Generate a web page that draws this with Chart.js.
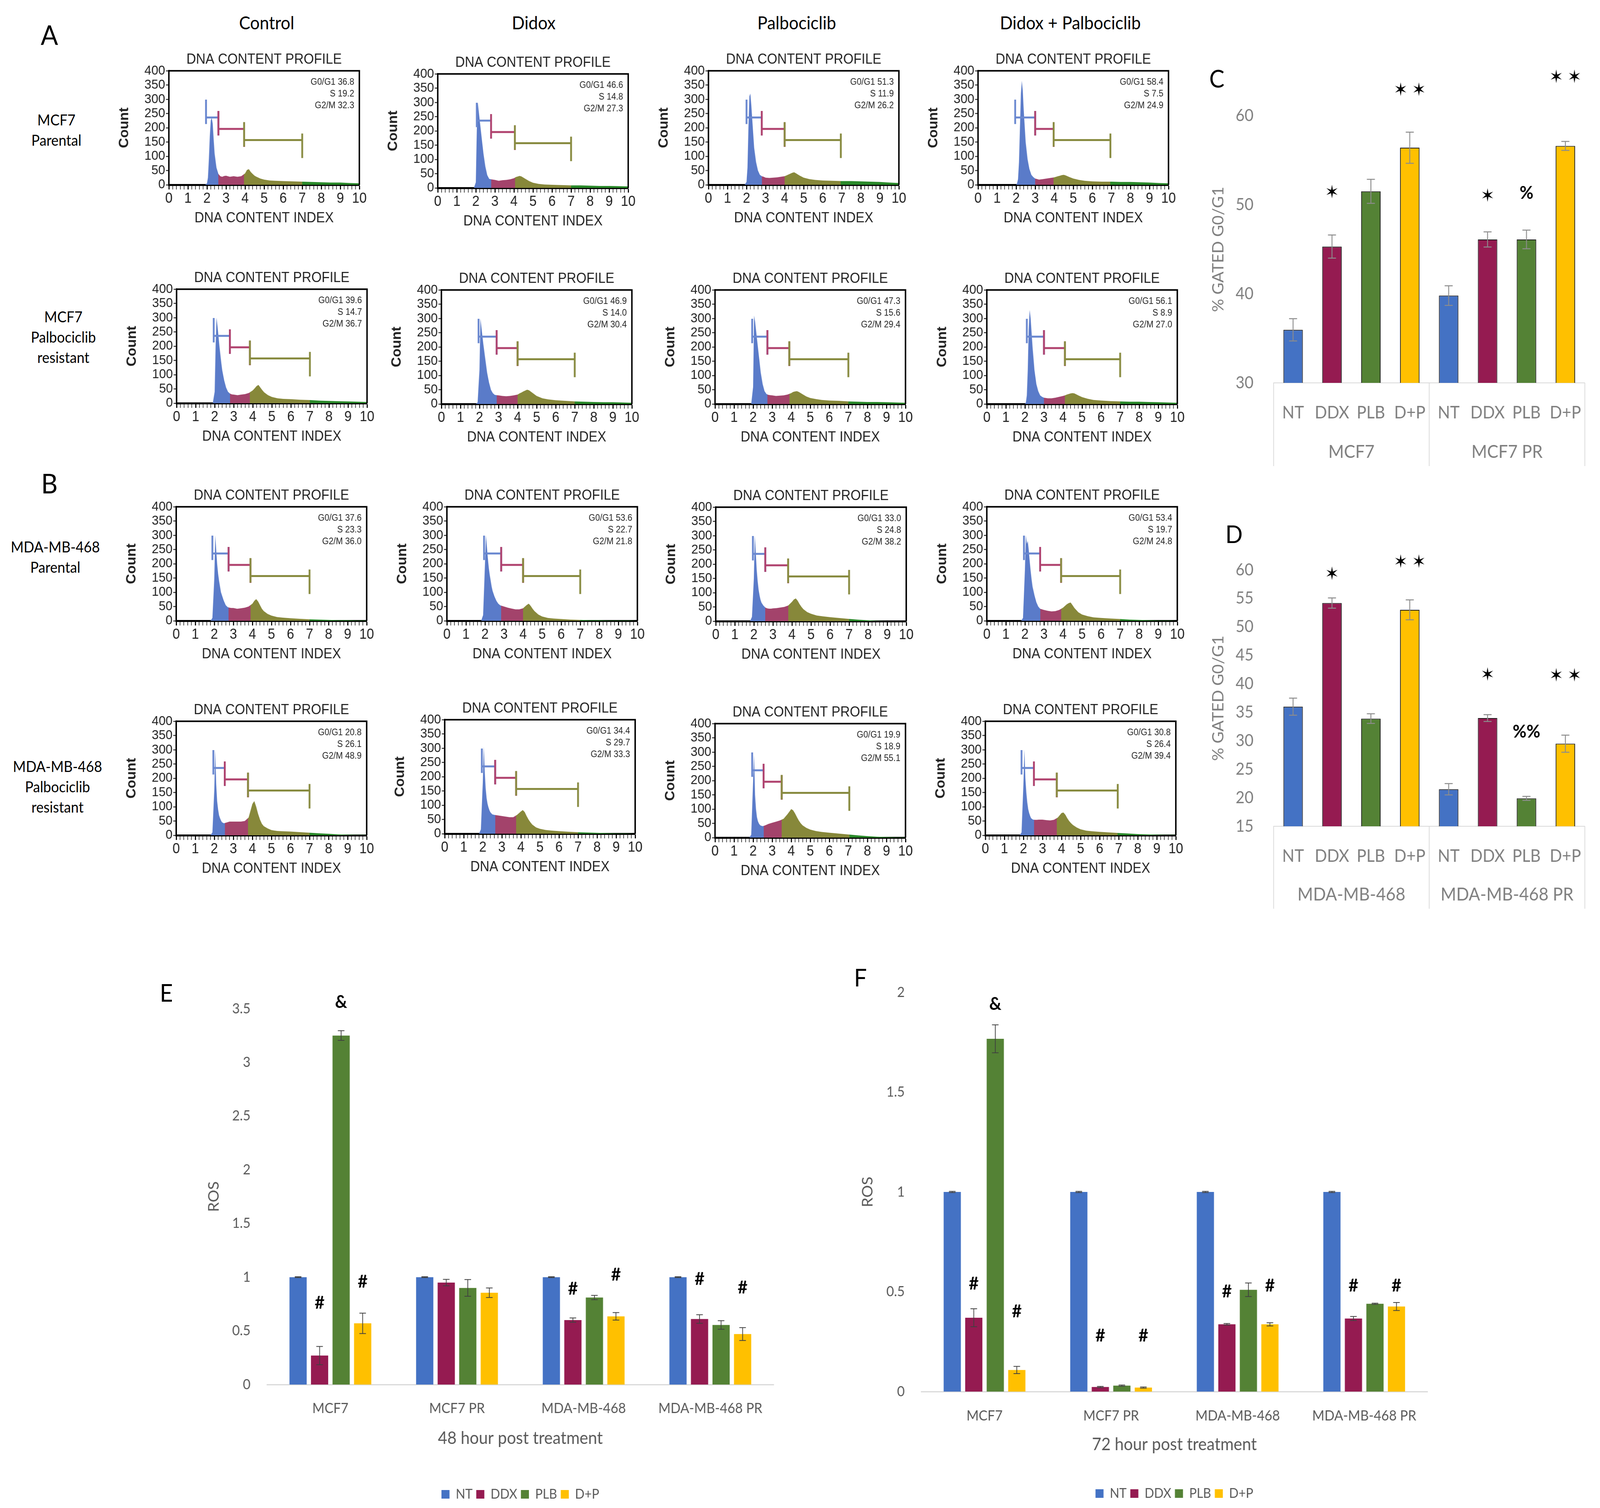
<!DOCTYPE html>
<html>
<head>
<meta charset="utf-8">
<title>Cell cycle profiles and ROS</title>
<script src="https://cdn.jsdelivr.net/npm/chart.js@4.4.1/dist/chart.umd.min.js"></script>
<style>
  html, body { margin: 0; padding: 0; background: #fff; overflow: hidden; }
  #wrap { position: relative; width: 4368px; height: 3860px; overflow: hidden; }
  #page { position: absolute; left: 0; top: 0; width: 4368px; height: 3860px; overflow: hidden; background: #fff;
          font-family: Lato, "Liberation Sans", sans-serif; color: #000; transform-origin: 0 0; }
  #page canvas { position: absolute; }
  .txt { position: absolute; transform: translate(-50%, -50%); white-space: pre; text-align: center; }
</style>
</head>
<body>
<div id="wrap"><div id="page"></div></div>
<script>
// ---------- data ----------
const treatments = ['Control', 'Didox', 'Palbociclib', 'Didox + Palbociclib'];
const cellLines = ['MCF7\nParental', 'MCF7\nPalbociclib\nresistant', 'MDA-MB-468\nParental', 'MDA-MB-468\nPalbociclib\nresistant'];

// DNA content index (x) where the histogram counts were read
const dnaIndex = [1.8, 1.9, 2.0, 2.05, 2.1, 2.15, 2.2, 2.25, 2.3, 2.35, 2.4, 2.5, 2.6, 2.7, 2.8, 2.9, 3.0, 3.2, 3.4, 3.6, 3.8,
                  4.0, 4.1, 4.2, 4.3, 4.4, 4.5, 4.6, 4.8, 5.0, 5.3, 5.6, 6.0, 6.5, 7.0, 7.5, 8.0, 8.5, 9.0, 9.5, 10.0];

// counts, MCF7 parental
const mcf7Control = [0,0,5,25,90,170,225,235,215,160,110,60,38,30,28,31,32,28,30,28,30,40,52,55,45,38,32,28,22,18,15,14,13,12,11,10,9,8,8,6,5];
const mcf7Didox   = [0,0,20,200,300,270,240,210,180,150,120,75,45,32,30,29,28,25,27,28,30,34,38,40,42,40,36,32,24,18,14,12,11,10,9,9,8,7,7,6,5];
const mcf7Palbo   = [0,0,10,60,200,310,320,280,230,180,130,80,50,35,30,28,25,24,25,26,28,30,33,36,39,42,44,40,32,25,20,17,15,14,13,13,12,11,10,8,6];
const mcf7Combo   = [0,0,0,5,20,80,200,320,365,330,260,150,90,55,35,27,22,18,20,22,24,26,28,30,32,34,35,33,27,22,17,14,12,11,11,10,10,9,8,6,5];
// counts, MCF7 palbociclib resistant
const mcf7prControl = [0,0,40,200,300,270,235,200,170,140,115,80,55,40,34,31,30,28,30,32,36,45,52,60,64,55,46,38,28,22,17,15,14,12,11,9,8,7,6,5,4];
const mcf7prDidox   = [0,5,120,300,270,240,210,185,160,135,110,75,50,38,32,31,30,28,27,28,30,33,37,40,44,47,50,48,38,28,20,16,13,11,9,8,7,6,6,5,4];
const mcf7prPalbo   = [0,0,60,310,290,260,230,200,170,140,110,70,45,35,32,31,30,28,29,30,33,38,42,44,45,42,38,34,26,21,17,14,12,11,9,8,7,7,6,5,4];
const mcf7prCombo   = [0,0,0,5,30,120,260,330,300,250,200,120,70,45,30,25,22,20,20,22,25,28,30,33,35,37,38,37,30,24,18,14,12,10,9,8,8,7,6,5,4];
// counts, MDA-MB-468 parental
const mdaControl = [0,10,150,300,250,200,165,140,120,100,90,70,55,48,46,45,45,42,44,46,50,60,70,76,68,55,42,34,24,18,13,11,9,7,5,4,3,2,2,1,1];
const mdaDidox   = [0,20,200,300,260,220,185,160,140,120,105,85,70,60,54,52,50,46,43,40,40,44,50,56,60,52,42,34,22,15,10,8,6,4,3,2,2,1,1,1,0];
const mdaPalbo   = [0,15,150,300,240,180,140,110,90,75,65,55,48,45,44,44,45,46,48,50,55,68,76,80,72,60,50,42,32,26,20,17,14,11,8,5,3,1,0,0,0];
const mdaCombo   = [0,10,180,300,270,280,250,210,175,145,120,90,65,50,42,40,38,35,33,34,38,46,52,58,62,64,55,45,30,22,16,12,10,8,6,4,3,2,1,1,0];
// counts, MDA-MB-468 palbociclib resistant
const mdaprControl = [0,10,160,300,180,120,90,70,60,52,46,42,44,46,48,48,48,48,48,50,62,110,120,100,75,55,40,32,24,18,15,14,13,11,9,7,5,3,2,1,1];
const mdaprDidox   = [0,15,180,305,220,160,125,105,92,82,75,68,66,65,64,63,62,60,58,58,66,78,83,76,62,50,40,32,22,17,13,11,9,7,5,4,3,2,1,1,0];
const mdaprPalbo   = [0,10,200,290,150,100,72,58,50,45,42,40,42,45,48,50,52,56,60,66,82,100,96,85,72,60,50,43,34,28,23,20,17,14,11,8,5,3,2,1,1];
const mdaprCombo   = [0,10,180,300,200,150,115,92,78,68,60,55,54,54,55,55,55,53,52,54,62,78,80,72,60,50,42,36,27,21,16,14,12,10,8,6,4,3,2,1,1];

// gates: [G0/G1 start, S start, G2/M start, G2/M end]
const mcf7Gates   = [[1.95,2.6,3.95,7.0],[2.05,2.8,4.05,7.0],[2.0,2.8,4.0,6.95],[1.95,3.0,3.97,6.95]];
const mcf7prGates = [[1.95,2.8,3.85,7.0],[1.95,2.9,4.0,7.0],[1.95,2.75,3.9,7.0],[2.1,3.0,4.1,7.0]];
const mdaGates    = [[1.9,2.75,3.9,7.0],[1.95,2.85,4.0,7.0],[1.95,2.6,3.8,7.0],[1.95,2.8,3.9,7.0]];
const mdaprGates  = [[1.95,2.55,3.77,7.0],[1.95,2.65,3.75,7.0],[1.95,2.55,3.5,7.05],[1.9,2.55,3.75,6.95]];
const gateLevels = [236, 196, 157];

// gated percentages [G0/G1, S, G2/M]
const mcf7Stats   = [[36.8,19.2,32.3],[46.6,14.8,27.3],[51.3,11.9,26.2],[58.4,7.5,24.9]];
const mcf7prStats = [[39.6,14.7,36.7],[46.9,14.0,30.4],[47.3,15.6,29.4],[56.1,8.9,27.0]];
const mdaStats    = [[37.6,23.3,36.0],[53.6,22.7,21.8],[33.0,24.8,38.2],[53.4,19.7,24.8]];
const mdaprStats  = [[20.8,26.1,48.9],[34.4,29.7,33.3],[19.9,18.9,55.1],[30.8,26.4,39.4]];

// panel C / D: % gated G0/G1
const treatmentTicks = ['NT', 'DDX', 'PLB', 'D+P'];
const gatedGroupsC = ['MCF7', 'MCF7 PR'];
const gatedC       = [35.95, 45.3, 51.5, 56.4, 39.8, 46.1, 46.1, 56.6];
const gatedCErr    = [1.25, 1.3, 1.35, 1.75, 1.1, 0.85, 1.05, 0.5];
const gatedCMarks  = ['', '✶', '', '✶ ✶', '', '✶', '%', '✶ ✶'];
const gatedCMarkAt = [null, 51.4, null, 62.9, null, 51.0, 51.3, 64.35];
const gatedGroupsD = ['MDA-MB-468', 'MDA-MB-468 PR'];
const gatedD       = [36.0, 54.2, 33.9, 53.0, 21.5, 34.0, 19.9, 29.5];
const gatedDErr    = [1.5, 0.9, 0.85, 1.75, 1.0, 0.6, 0.35, 1.5];
const gatedDMarks  = ['', '✶', '', '✶ ✶', '', '✶', '%%', '✶ ✶'];
const gatedDMarkAt = [null, 59.3, null, 61.45, null, 41.6, 31.6, 41.5];

// panel E / F: ROS
const rosGroups = ['MCF7', 'MCF7 PR', 'MDA-MB-468', 'MDA-MB-468 PR'];
const rosSeries = ['NT', 'DDX', 'PLB', 'D+P'];
const ros48NT  = [1.0, 1.0, 1.0, 1.0];
const ros48DDX = [0.27, 0.95, 0.6, 0.61];
const ros48PLB = [3.25, 0.9, 0.81, 0.555];
const ros48DP  = [0.57, 0.855, 0.635, 0.47];
const ros48NTErr  = [0.004, 0.004, 0.004, 0.004];
const ros48DDXErr = [0.085, 0.03, 0.02, 0.04];
const ros48PLBErr = [0.045, 0.078, 0.02, 0.04];
const ros48DPErr  = [0.095, 0.045, 0.035, 0.06];
const ros48DDXMarks = ['#', '', '#', '#'];  const ros48DDXMarkAt = [0.76, null, 0.89, 0.98];
const ros48PLBMarks = ['&', '', '', ''];    const ros48PLBMarkAt = [3.56, null, null, null];
const ros48DPMarks  = ['#', '', '#', '#'];  const ros48DPMarkAt  = [0.955, null, 1.02, 0.90];
const ros72NT  = [1.0, 1.0, 1.0, 1.0];
const ros72DDX = [0.37, 0.023, 0.337, 0.366];
const ros72PLB = [1.767, 0.03, 0.51, 0.44];
const ros72DP  = [0.108, 0.02, 0.337, 0.426];
const ros72NTErr  = [0.003, 0.003, 0.003, 0.003];
const ros72DDXErr = [0.045, 0.003, 0.004, 0.01];
const ros72PLBErr = [0.07, 0.003, 0.034, 0.003];
const ros72DPErr  = [0.018, 0.003, 0.008, 0.02];
const ros72DDXMarks = ['#', '#', '#', '#'];  const ros72DDXMarkAt = [0.54, 0.28, 0.50, 0.53];
const ros72PLBMarks = ['&', '', '', ''];     const ros72PLBMarkAt = [1.94, null, null, null];
const ros72DPMarks  = ['#', '#', '#', '#'];  const ros72DPMarkAt  = [0.40, 0.28, 0.53, 0.53];

// ---------- styles ----------
const phaseColors = ['#5a7bc9', '#a3436b', '#87883a', '#2a8a2a'];
const gateColors = ['#6a88d0', '#b0426e', '#888b40'];
const treatmentColors = ['#4472c4', '#951b51', '#548235', '#ffc000'];
const narrow = 'Liberation Sans';

Chart.defaults.font.family = 'Lato';

const wrap = document.getElementById('wrap');
const page = document.getElementById('page');

// fit the 4368x3860 layout into whatever viewport we actually get
const sx = window.innerWidth / 4368, sy = window.innerHeight / 3860;
if (sx > 0.3 && sy > 0.3 && (Math.abs(sx - 1) > 0.004 || Math.abs(sy - 1) > 0.004)) {
  wrap.style.width = (4368 * sx) + 'px';
  wrap.style.height = (3860 * sy) + 'px';
  page.style.transform = 'scale(' + sx + ',' + sy + ')';
}

function makeCanvas(left, top, w, h) {
  const c = document.createElement('canvas');
  c.width = w; c.height = h;
  c.style.left = left + 'px'; c.style.top = top + 'px';
  c.style.width = w + 'px'; c.style.height = h + 'px';
  page.appendChild(c);
  return c;
}

function addText(text, x, y, css) {
  const d = document.createElement('div');
  d.className = 'txt';
  d.textContent = text;
  d.style.left = x + 'px'; d.style.top = y + 'px';
  Object.assign(d.style, css);
  page.appendChild(d);
}

// ---------- plugins ----------
const frameBox = {
  id: 'frameBox',
  afterDraw(chart) {
    const {ctx, chartArea: a} = chart;
    ctx.save();
    ctx.strokeStyle = '#000'; ctx.lineWidth = 4;
    ctx.beginPath();
    ctx.moveTo(a.left, a.top); ctx.lineTo(a.right, a.top); ctx.lineTo(a.right, a.bottom);
    ctx.stroke();
    ctx.restore();
  }
};

const statsBox = {
  id: 'statsBox',
  afterDraw(chart, args, opts) {
    const {ctx, chartArea: a} = chart;
    ctx.save();
    ctx.fillStyle = '#222'; ctx.font = '23px "' + narrow + '"';
    ctx.textAlign = 'right'; ctx.textBaseline = 'middle';
    opts.lines.forEach((t, i) => ctx.fillText(t, a.right - 14, a.top + 29 + i * 30));
    ctx.restore();
  }
};

const errorBars = {
  id: 'errorBars',
  afterDatasetsDraw(chart, args, opts) {
    const {ctx} = chart; const y = chart.scales.y;
    ctx.save();
    ctx.strokeStyle = opts.color; ctx.lineWidth = opts.width;
    chart.data.datasets.forEach((ds, di) => {
      if (!ds.errors) return;
      chart.getDatasetMeta(di).data.forEach((bar, i) => {
        const v = ds.data[i], e = ds.errors[i];
        const top = y.getPixelForValue(v + e), bot = y.getPixelForValue(v - e);
        ctx.beginPath();
        ctx.moveTo(bar.x, top); ctx.lineTo(bar.x, bot);
        ctx.moveTo(bar.x - opts.cap, top); ctx.lineTo(bar.x + opts.cap, top);
        ctx.moveTo(bar.x - opts.cap, bot); ctx.lineTo(bar.x + opts.cap, bot);
        ctx.stroke();
      });
    });
    ctx.restore();
  }
};

const barMarks = {
  id: 'barMarks',
  afterDatasetsDraw(chart, args, opts) {
    const {ctx} = chart; const y = chart.scales.y;
    ctx.save();
    ctx.font = opts.font; ctx.fillStyle = '#000';
    ctx.textAlign = 'center'; ctx.textBaseline = 'middle';
    chart.data.datasets.forEach((ds, di) => {
      if (!ds.marks) return;
      chart.getDatasetMeta(di).data.forEach((bar, i) => {
        if (ds.marks[i]) ctx.fillText(ds.marks[i], bar.x, y.getPixelForValue(ds.markAt[i]));
      });
    });
    ctx.restore();
  }
};

// second category row (cell line) under the treatment ticks
const groupAxis = {
  id: 'groupAxis',
  afterDraw(chart, args, opts) {
    const {ctx, chartArea: a} = chart; const x = chart.scales.x;
    const edges = [a.left];
    for (let g = 1; g < opts.labels.length; g++) {
      edges.push((x.getPixelForValue(g * opts.perGroup - 1) + x.getPixelForValue(g * opts.perGroup)) / 2);
    }
    edges.push(a.right);
    ctx.save();
    ctx.strokeStyle = '#d9d9d9'; ctx.lineWidth = 2;
    ctx.beginPath();
    edges.forEach(e => { ctx.moveTo(e, a.bottom); ctx.lineTo(e, a.bottom + opts.depth); });
    ctx.stroke();
    ctx.fillStyle = '#7f7f7f'; ctx.font = '46px Lato';
    ctx.textAlign = 'center'; ctx.textBaseline = 'middle';
    opts.labels.forEach((t, g) => ctx.fillText(t, (edges[g] + edges[g + 1]) / 2, a.bottom + opts.offset));
    ctx.restore();
  }
};

// ---------- histograms (panels A, B) ----------
function phaseFill(chart, gates) {
  const a = chart.chartArea, xs = chart.scales.x;
  if (!a || !xs) return phaseColors[0];
  const x0 = xs.getPixelForValue(0), x1 = xs.getPixelForValue(10);
  if (!isFinite(x0) || !isFinite(x1) || x1 <= x0) return phaseColors[0];
  const g = chart.ctx.createLinearGradient(x0, 0, x1, 0);
  const cuts = [0, gates[1] / 10, gates[2] / 10, gates[3] / 10, 1];
  for (let k = 0; k < 4; k++) {
    g.addColorStop(cuts[k], phaseColors[k]);
    g.addColorStop(cuts[k + 1], phaseColors[k]);
  }
  return g;
}

function gateLine(a, b, h, color) {
  return {
    type: 'line',
    data: [{x: a, y: h - 23}, {x: a, y: h + 63}, {x: a, y: null},
           {x: a, y: h}, {x: b, y: h}, {x: b, y: null},
           {x: b, y: h - 63}, {x: b, y: h + 23}],
    borderColor: color, borderWidth: 5, pointRadius: 0, fill: false, spanGaps: false
  };
}

const isWhole = v => Math.abs(v - Math.round(v)) < 1e-6;

function drawHistogram(boxLeft, boxTop, counts, gates, stats) {
  const canvas = makeCanvas(boxLeft - 145, boxTop - 70, 705, 470);
  const gateSets = [
    gateLine(gates[2], gates[3], gateLevels[2], gateColors[2]),
    gateLine(gates[1], gates[2], gateLevels[1], gateColors[1]),
    gateLine(gates[0], gates[1], gateLevels[0], gateColors[0])
  ];
  const tickFont = {family: narrow, size: 36};
  new Chart(canvas, {
    type: 'line',
    data: {
      datasets: gateSets.concat([{
        data: dnaIndex.map((x, i) => ({x: x, y: counts[i]})),
        borderWidth: 0, borderColor: 'rgba(0,0,0,0)', pointRadius: 0, tension: 0, fill: 'origin',
        backgroundColor: ctx => phaseFill(ctx.chart, gates)
      }])
    },
    options: {
      responsive: false, animation: false,
      layout: {padding: {right: 40}},
      plugins: {
        legend: {display: false}, tooltip: {enabled: false},
        title: {display: true, fullSize: false, text: 'DNA CONTENT PROFILE', color: '#222',
                font: {family: narrow, size: 36, weight: 'normal'}, padding: {top: 20, bottom: 7}},
        statsBox: {lines: ['G0/G1 ' + stats[0].toFixed(1), 'S ' + stats[1].toFixed(1), 'G2/M ' + stats[2].toFixed(1)]}
      },
      scales: {
        x: {
          type: 'linear', min: 0, max: 10,
          afterFit: s => { s.height = 108; },
          ticks: {stepSize: 0.2, maxTicksLimit: 60, autoSkip: false, maxRotation: 0, padding: 2, color: '#222',
                  font: tickFont, callback: v => isWhole(v) ? String(Math.round(v)) : ''},
          grid: {drawOnChartArea: false, tickLength: 12, tickColor: '#000',
                 tickWidth: c => (c.tick && isWhole(c.tick.value)) ? 3 : 1.5},
          border: {color: '#000', width: 5},
          title: {display: true, text: 'DNA CONTENT INDEX', color: '#222', font: tickFont, padding: 0}
        },
        y: {
          min: 0, max: 400,
          afterFit: s => { s.width = 145; },
          ticks: {stepSize: 50, maxTicksLimit: 20, autoSkip: false, color: '#222',
                  font: {family: narrow, size: 34}, padding: 2},
          grid: {drawOnChartArea: false, tickLength: 8, tickColor: '#000', tickWidth: 2},
          border: {color: '#000', width: 4},
          title: {display: true, text: 'Count', color: '#222', font: {family: narrow, size: 36, weight: 'bold'},
                  padding: {top: 2, bottom: 0}}
        }
      }
    },
    plugins: [frameBox, statsBox]
  });
}

const histCounts = [
  [mcf7Control, mcf7Didox, mcf7Palbo, mcf7Combo],
  [mcf7prControl, mcf7prDidox, mcf7prPalbo, mcf7prCombo],
  [mdaControl, mdaDidox, mdaPalbo, mdaCombo],
  [mdaprControl, mdaprDidox, mdaprPalbo, mdaprCombo]
];
const histGates = [mcf7Gates, mcf7prGates, mdaGates, mdaprGates];
const histStats = [mcf7Stats, mcf7prStats, mdaStats, mdaprStats];
const boxLeft = [[461, 1195, 1934, 2670], [482, 1205, 1952, 2694], [481, 1220, 1954, 2694], [481, 1214, 1952, 2690]];
const boxTop  = [[181, 189, 181, 181], [740, 742, 742, 742], [1297, 1297, 1298, 1297], [1846, 1842, 1852, 1846]];

for (let r = 0; r < 4; r++) {
  for (let c = 0; c < 4; c++) {
    drawHistogram(boxLeft[r][c], boxTop[r][c], histCounts[r][c], histGates[r][c], histStats[r][c]);
  }
}

// ---------- panels C, D ----------
function drawGated(left, top, height, padTop, xHeight, values, errs, marks, markAt, groups, yMin, yStep, groupOffset, groupDepth) {
  const canvas = makeCanvas(left, top, 1078, height);
  const grey = '#7f7f7f';
  new Chart(canvas, {
    type: 'bar',
    data: {
      labels: treatmentTicks.concat(treatmentTicks),
      datasets: [{
        data: values, errors: errs, marks: marks, markAt: markAt,
        backgroundColor: treatmentColors.concat(treatmentColors),
        borderColor: '#1a1a1a', borderWidth: 2,
        categoryPercentage: 1, barPercentage: 0.5
      }]
    },
    options: {
      responsive: false, animation: false,
      layout: {padding: {top: padTop, right: 30}},
      plugins: {
        legend: {display: false}, tooltip: {enabled: false},
        errorBars: {color: '#8c8c8c', width: 2.5, cap: 11},
        barMarks: {font: 'bold 46px Lato, "DejaVu Sans"'},
        groupAxis: {labels: groups, perGroup: 4, depth: groupDepth, offset: groupOffset}
      },
      scales: {
        x: {
          afterFit: s => { s.height = xHeight; },
          grid: {display: false, drawTicks: false},
          border: {display: true, color: '#d9d9d9', width: 2},
          ticks: {autoSkip: false, maxRotation: 0, padding: 50, color: grey, font: {size: 44}}
        },
        y: {
          min: yMin, max: 60,
          afterFit: s => { s.width = 187; },
          grid: {display: false, drawTicks: false},
          border: {display: false},
          ticks: {stepSize: yStep, autoSkip: false, padding: 55, color: grey, font: {size: 42}},
          title: {display: true, text: '% GATED G0/G1', color: grey, font: {size: 42}, padding: {top: 11, bottom: 0}}
        }
      }
    },
    plugins: [errorBars, barMarks, groupAxis]
  });
}

drawGated(3290, 160, 1040, 136, 220, gatedC, gatedCErr, gatedCMarks, gatedCMarkAt, gatedGroupsC, 30, 10, 177, 213);
drawGated(3290, 1330, 1010, 129, 225, gatedD, gatedDErr, gatedDMarks, gatedDMarkAt, gatedGroupsD, 15, 5, 175, 211);

// ---------- panels E, F ----------
function drawRos(left, top, width, height, opt) {
  const canvas = makeCanvas(left, top, width, height);
  const grey = '#595959';
  const datasets = rosSeries.map((name, k) => ({
    label: name, data: opt.values[k], errors: opt.errs[k],
    marks: opt.marks[k], markAt: opt.markAt[k],
    backgroundColor: treatmentColors[k], borderWidth: 0,
    categoryPercentage: 0.68, barPercentage: 0.8
  }));
  new Chart(canvas, {
    type: 'bar',
    data: {labels: rosGroups, datasets: datasets},
    options: {
      responsive: false, animation: false,
      layout: {padding: {top: opt.padTop, right: opt.padRight, bottom: 0}},
      plugins: {
        tooltip: {enabled: false},
        legend: {display: true, position: 'bottom', fullSize: false,
                 labels: {boxWidth: 22, boxHeight: 22, padding: 10, color: grey, font: {size: 34}}},
        errorBars: {color: '#404040', width: 2, cap: 9},
        barMarks: {font: 'bold 46px Lato'}
      },
      scales: {
        x: {
          afterFit: s => { s.height = opt.xHeight; },
          grid: {display: false, drawTicks: false},
          border: {display: true, color: '#d9d9d9', width: 3},
          ticks: {autoSkip: false, maxRotation: 0, padding: opt.tickPad, color: grey, font: {size: 36}},
          title: {display: true, text: opt.title, color: grey, font: {size: 44}, padding: {top: 0, bottom: opt.titlePad}}
        },
        y: {
          min: 0, max: opt.yMax,
          afterFit: s => { s.width = opt.yWidth; },
          grid: {display: false, drawTicks: false},
          border: {display: false},
          ticks: {stepSize: 0.5, autoSkip: false, padding: 45, color: grey, font: {size: 36},
                  callback: v => String(+v.toFixed(2))},
          title: {display: true, text: 'ROS', color: grey, font: {size: 40}, padding: {top: 0, bottom: 0}}
        }
      }
    },
    plugins: [errorBars, barMarks]
  });
}

drawRos(560, 2500, 1620, 1352, {
  values: [ros48NT, ros48DDX, ros48PLB, ros48DP],
  errs: [ros48NTErr, ros48DDXErr, ros48PLBErr, ros48DPErr],
  marks: [null, ros48DDXMarks, ros48PLBMarks, ros48DPMarks],
  markAt: [null, ros48DDXMarkAt, ros48PLBMarkAt, ros48DPMarkAt],
  padTop: 82, padRight: 68, yWidth: 169, xHeight: 254, tickPad: 40, titlePad: 90,
  yMax: 3.5, title: '48 hour post treatment'
});

drawRos(2345, 2470, 1612, 1380, {
  values: [ros72NT, ros72DDX, ros72PLB, ros72DP],
  errs: [ros72NTErr, ros72DDXErr, ros72PLBErr, ros72DPErr],
  marks: [null, ros72DDXMarks, ros72PLBMarks, ros72DPMarks],
  markAt: [null, ros72DDXMarkAt, ros72PLBMarkAt, ros72DPMarkAt],
  padTop: 70, padRight: 60, yWidth: 170, xHeight: 234, tickPad: 41, titlePad: 72,
  yMax: 2, title: '72 hour post treatment'
});

// ---------- page text ----------
const headerX = [728, 1457, 2175, 2922];
treatments.forEach((t, i) => addText(t, headerX[i], 57, {fontSize: '46px'}));

const rowLabelPos = [[154, 332], [173, 862], [151, 1425], [157, 2013]];
cellLines.forEach((t, i) => addText(t, rowLabelPos[i][0], rowLabelPos[i][1], {fontSize: '38px', lineHeight: '52px'}));

addText('A', 135, 88, {fontSize: '70px'});
addText('B', 135, 1236, {fontSize: '70px'});
addText('C', 3322, 200, {fontSize: '62px'});
addText('D', 3369, 1366, {fontSize: '62px'});
addText('E', 454, 2540, {fontSize: '62px'});
addText('F', 2349, 2501, {fontSize: '62px'});
</script>
</body>
</html>
